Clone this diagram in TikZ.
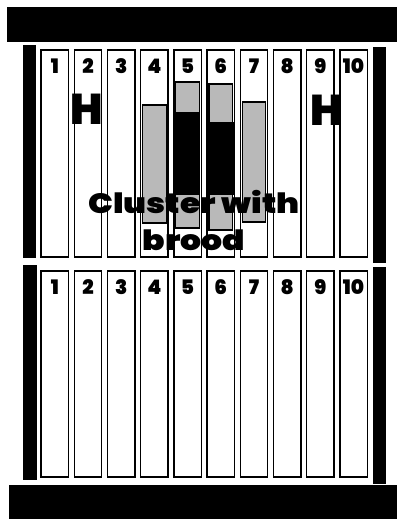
\documentclass[tikz,border=0pt]{standalone}
\usepackage{fontspec}
\setsansfont{Poppins}
\newfontfamily\heavyfont{Poppins Black}
\tikzset{
  every picture/.style={font=\sffamily\bfseries, line width=1.3pt},
  wall/.style={fill=black},
  frame/.style={draw=black, fill=white, line width=1.4pt},
  cell/.style={draw=black, fill=gray!55, line width=1.2pt},
  brood/.style={fill=black},
  num/.style={font=\heavyfont\fontsize{20}{20}\selectfont, inner sep=0pt},
  heater/.style={font=\heavyfont\fontsize{43}{43}\selectfont, inner sep=0pt},
  caption/.style={font=\heavyfont\fontsize{28}{37}\selectfont, align=center, inner sep=0pt, xscale=1.18, transform shape},
}

\begin{document}
\begin{tikzpicture}[x=1pt, y=-1pt]
  \useasboundingbox (0,0) rectangle (397,519);
  % hive walls
  \fill[wall] (7,7) rectangle (397,42);
  \fill[wall] (9,485) rectangle (397,519);
  \fill[wall] (23,45) rectangle (36,258);
  \fill[wall] (23,265) rectangle (37,480);
  \fill[wall] (373,47) rectangle (386,263);
  \fill[wall] (373,267) rectangle (386,484);
  % frames of both boxes
  \foreach \Y/\B/\s in {50/257/u, 271/477/l} {
    \foreach \k in {1,...,10} {
      \draw[frame] ({41+33.2*(\k-1)},\Y) rectangle ({68.5+33.2*(\k-1)},\B);
    }
  }
  % comb with stores and brood
  \foreach \k/\t/\b in {4/105/223, 7/102/222, 5/82/228, 6/84/230} {
    \draw[cell] ({43+33.2*(\k-1)},\t) rectangle ({66.5+33.2*(\k-1)},\b);
  }
  \foreach \k/\t/\b in {5/112/195, 6/122/195} {
    \fill[brood] ({42+33.2*(\k-1)},\t) rectangle ({67.5+33.2*(\k-1)},\b);
  }
  % frame numbers
  \foreach \Y/\s in {66/u, 287/l} {
    \foreach \k in {1,...,10} {
      \node[num] (\s\k) at ({54.75+33.2*(\k-1)},\Y) {\k};
    }
  }
  \node[heater] (h2) at (87,109) {H};
  \node[heater] (h9) at (327,110) {H};
  \node[caption] (cluster) at (194,220) {Cluster with\\brood};
\end{tikzpicture}
\end{document}
